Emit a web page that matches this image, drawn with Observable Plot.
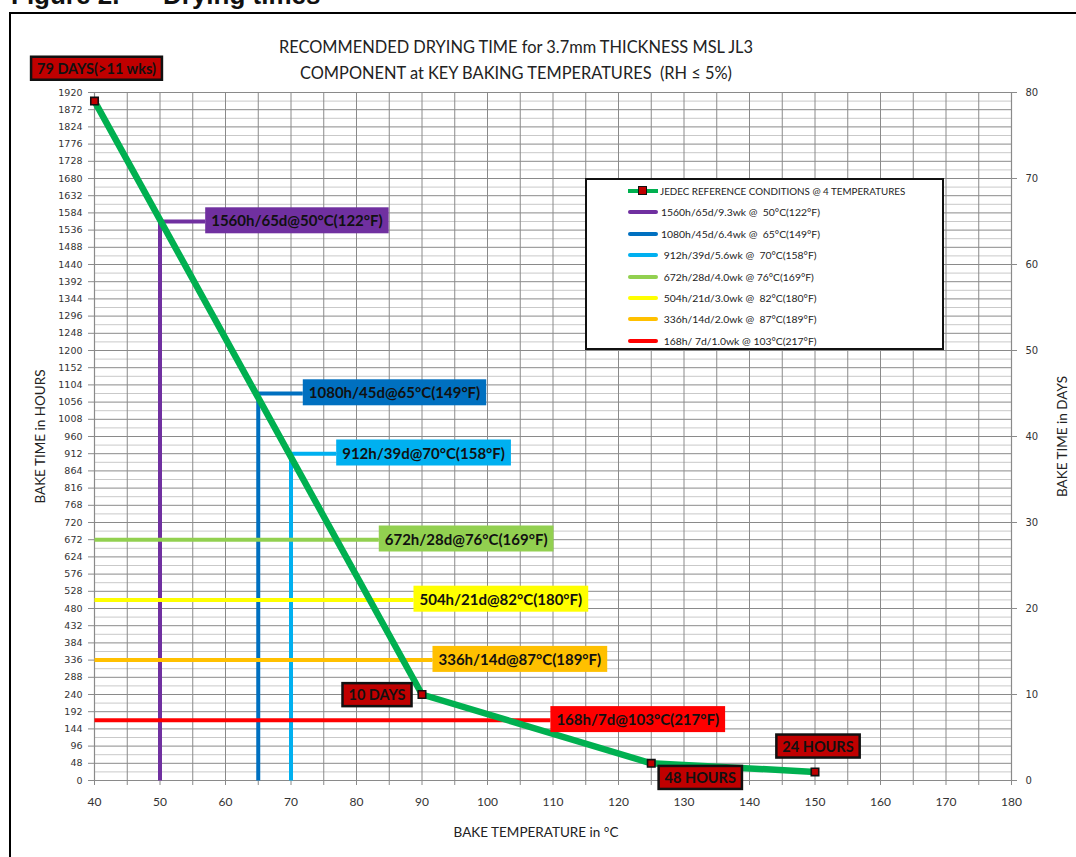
<!DOCTYPE html>
<html>
<head>
<meta charset="utf-8">
<script src="https://cdn.jsdelivr.net/npm/d3@7"></script>
<script src="https://cdn.jsdelivr.net/npm/@observablehq/plot@0.6"></script>
<style>
  html, body { margin: 0; padding: 0; background: white; overflow: hidden; }
  body { width: 1076px; height: 857px; position: relative; }
  #chart { position: absolute; left: 0; top: 0; }
  .fig { position: absolute; font-family: "Liberation Sans", Arial, sans-serif; font-weight: bold; font-size: 26px; line-height: 26px; color: #111; white-space: pre; }
  #frame { position: absolute; left: 9px; top: 12px; width: 1100px; height: 900px; border: 2px solid black; }
  #legend { position: absolute; left: 585px; top: 178px; width: 355px; height: 168px; border: 2px solid #111; background: white; font-family: Lato, sans-serif; color: #222; }
  .row { position: absolute; left: 0; height: 14px; width: 100%; }
  .sw { position: absolute; left: 41px; top: 5px; width: 30px; height: 4px; border-radius: 2px; }
  .mk { position: absolute; left: 51px; top: 2px; width: 7px; height: 7px; background: #C00000; border: 1.5px solid #111; }
  .lt { position: absolute; left: 74px; top: 0; font-size: 10.4px; line-height: 14px; white-space: pre; }
</style>
</head>
<body>
<div class="fig" style="left:11px; top:-18px;">Figure 2.</div>
<div class="fig" style="left:163px; top:-18px;">Drying times</div>
<div id="frame"></div>
<div id="chart"></div>
<div id="legend"></div>
<script>
// ---------- data ----------
const jedecTemps = [40, 90, 125, 150];            // °C
const jedecHours = [1896, 240, 48, 24];           // h
const jedecName = "JEDEC REFERENCE CONDITIONS @ 4 TEMPERATURES";

const refTemps  = [50, 65, 70, 76, 82, 87, 103];
const refHours  = [1560, 1080, 912, 672, 504, 336, 168];
const refLabels = ["1560h/65d@50°C(122°F)", "1080h/45d@65°C(149°F)", "912h/39d@70°C(158°F)",
                   "672h/28d@76°C(169°F)", "504h/21d@82°C(180°F)", "336h/14d@87°C(189°F)", "168h/7d@103°C(217°F)"];
const refLegend = ["1560h/65d/9.3wk @  50°C(122°F)", "1080h/45d/6.4wk @  65°C(149°F)", " 912h/39d/5.6wk @  70°C(158°F)",
                   " 672h/28d/4.0wk @ 76°C(169°F)", " 504h/21d/3.0wk @  82°C(180°F)", " 336h/14d/2.0wk @  87°C(189°F)",
                   " 168h/ 7d/1.0wk @ 103°C(217°F)"];

const calloutTexts = ["79 DAYS(>11 wks)", "10 DAYS", "48 HOURS", "24 HOURS"];

const titleLines = ["RECOMMENDED DRYING TIME for 3.7mm THICKNESS MSL JL3",
                    "COMPONENT at KEY BAKING TEMPERATURES  (RH ≤ 5%)"];
const xTitle = "BAKE TEMPERATURE in °C";
const yTitle = "BAKE TIME in HOURS";
const y2Title = "BAKE TIME in DAYS";

const hourTicks = d3.range(0, 1921, 48);
const minorHours = d3.range(24, 1920, 48);
const dayTicks = [0, 10, 20, 30, 40, 50, 60, 70, 80];
const tempTicks = d3.range(40, 181, 10);
const tempGrid = d3.range(40, 181, 5);

// ---------- styles / layout ----------
const refColors = ["#7030A0", "#0070C0", "#00B0F0", "#92D050", "#FFFF00", "#FFC000", "#FF0000"];
const refDrop   = [true, true, true, false, false, false, false];   // vertical drop line from the temperature
const refLabelAt = [56.9, 71.8, 76.9, 83.4, 88.7, 91.6, 109.6];     // °C where the leader ends and the label box starts
const calloutOffsets = [[2, -32], [-45, 1], [49, 15], [3, -25]];
const jedecGreen = "#00B050", markerRed = "#C00000";

// ---------- tables ----------
const jedec = jedecTemps.map((t, i) => ({t, h: jedecHours[i]}));
const refPaths = [];
refTemps.forEach((t, i) => {
  const pts = refDrop[i]
    ? [{t, h: 0}, {t, h: refHours[i]}, {t: refLabelAt[i], h: refHours[i]}]
    : [{t: 40, h: refHours[i]}, {t: refLabelAt[i], h: refHours[i]}];
  pts.forEach(p => refPaths.push({...p, id: i, color: refColors[i]}));
});
const refs = refTemps.map((t, i) => ({t, h: refHours[i], label: refLabels[i], at: refLabelAt[i], color: refColors[i]}));

const calloutMarks = calloutTexts.map((txt, i) => Plot.text([jedec[i]], {
  x: "t", y: "h", text: () => txt, dx: calloutOffsets[i][0], dy: calloutOffsets[i][1],
  fontWeight: "bold", fontSize: 14.5, fill: "#111", fontFamily: "Lato"
}));

const chart = Plot.plot({
  width: 1076, height: 857,
  marginLeft: 94, marginRight: 65, marginTop: 92, marginBottom: 77,
  x: {domain: [40, 180]},
  y: {domain: [0, 1920]},
  color: {type: "identity"},
  style: {fontFamily: "Lato", background: "transparent", overflow: "visible"},
  marks: [
    Plot.ruleY(minorHours, {stroke: "#c9c9c9", strokeWidth: 1}),
    Plot.ruleY(hourTicks, {stroke: "#8a8a8a", strokeWidth: 1}),
    Plot.ruleX(tempGrid, {stroke: "#8a8a8a", strokeWidth: 1}),
    Plot.ruleX([40, 180], {stroke: "#8a8a8a", strokeWidth: 1.2}),
    Plot.ruleY([0], {stroke: "#8a8a8a", strokeWidth: 1.2}),
    Plot.axisY({anchor: "left", ticks: hourTicks, tickSize: 6, tickPadding: 6, label: null,
      fontFamily: "DejaVu Sans", fontSize: 9.5, stroke: "#8a8a8a", fill: "#333", tickFormat: d => String(d)}),
    Plot.axisY({anchor: "right", ticks: dayTicks.map(d => d * 24), tickSize: 5, tickPadding: 9, label: null,
      fontFamily: "DejaVu Sans", fontSize: 10, stroke: "#8a8a8a", fill: "#333", tickFormat: d => String(d / 24)}),
    Plot.axisX({ticks: tempGrid, tickSize: 5, tickPadding: 12, label: null,
      fontFamily: "Lato", fontSize: 12, stroke: "#8a8a8a", fill: "#333", tickFormat: d => d % 10 === 0 ? String(d) : ""}),
    Plot.line(refPaths, {x: "t", y: "h", z: "id", stroke: "color", strokeWidth: 4, strokeLinejoin: "miter", strokeLinecap: "butt"}),
    Plot.line(jedec, {x: "t", y: "h", stroke: jedecGreen, strokeWidth: 6.5, strokeLinejoin: "round"}),
    Plot.dot(jedec, {x: "t", y: "h", symbol: "square", r: 4.2, fill: markerRed, stroke: "#111", strokeWidth: 1.6}),
    Plot.text(refs, {x: "at", y: "h", text: "label", textAnchor: "start", dx: 6, fontWeight: "bold",
      fontSize: 15, fill: "#111", fontFamily: "Lato"}),
    ...calloutMarks,
    Plot.text([titleLines[0]], {text: d => d, frameAnchor: "top", lineAnchor: "middle", textAnchor: "middle", dx: -37, dy: -45, fontSize: 16.4, fill: "#222", fontFamily: "Lato"}),
    Plot.text([titleLines[1]], {text: d => d, frameAnchor: "top", lineAnchor: "middle", textAnchor: "middle", dx: -37, dy: -19, fontSize: 16.4, fill: "#222", fontFamily: "Lato"}),
    Plot.text([xTitle], {text: d => d, frameAnchor: "bottom", lineAnchor: "middle", textAnchor: "middle", dx: -17, dy: 52, fontSize: 13.5, fill: "#222", fontFamily: "Lato"}),
    Plot.text([yTitle], {text: d => d, frameAnchor: "left", lineAnchor: "middle", textAnchor: "middle", rotate: -90, dx: -54, fontSize: 13.5, fill: "#222", fontFamily: "Lato"}),
    Plot.text([y2Title], {text: d => d, frameAnchor: "right", lineAnchor: "middle", textAnchor: "middle", rotate: -90, dx: 51, fontSize: 13.5, fill: "#222", fontFamily: "Lato"})
  ]
});
document.getElementById("chart").append(chart);

// background boxes behind label texts
const boxStyle = new Map();
refLabels.forEach((l, i) => boxStyle.set(l, {fill: refColors[i], stroke: "none", sw: 0, px: 6, py: 4}));
calloutTexts.forEach(l => boxStyle.set(l, {fill: markerRed, stroke: "#111", sw: 2.5, px: 6, py: 3}));
chart.querySelectorAll("text").forEach(t => {
  const s = boxStyle.get(t.textContent);
  if (!s) return;
  const b = t.getBBox();
  const r = document.createElementNS("http://www.w3.org/2000/svg", "rect");
  r.setAttribute("x", b.x - s.px);
  r.setAttribute("y", b.y - s.py);
  r.setAttribute("width", b.width + 2 * s.px);
  r.setAttribute("height", b.height + 2 * s.py);
  r.setAttribute("fill", s.fill);
  r.setAttribute("stroke", s.stroke);
  r.setAttribute("stroke-width", s.sw);
  const tr = t.getAttribute("transform");
  if (tr) r.setAttribute("transform", tr);
  t.parentNode.insertBefore(r, t);
});

// legend (overlay inside the plot area)
const legend = document.getElementById("legend");
const rows = [{name: jedecName, color: jedecGreen, marker: true}]
  .concat(refLegend.map((n, i) => ({name: n, color: refColors[i]})));
rows.forEach((r, i) => {
  const row = document.createElement("div");
  row.className = "row";
  row.style.top = (4 + i * 21.4) + "px";
  const sw = document.createElement("div");
  sw.className = "sw"; sw.style.background = r.color;
  if (r.marker) sw.style.borderRadius = "0";
  row.append(sw);
  if (r.marker) { const m = document.createElement("div"); m.className = "mk"; row.append(m); }
  const t = document.createElement("div");
  t.className = "lt"; t.textContent = r.name;
  if (r.marker) { t.style.fontSize = "9.8px"; t.style.left = "73px"; }
  row.append(t);
  legend.append(row);
});
</script>
</body>
</html>
